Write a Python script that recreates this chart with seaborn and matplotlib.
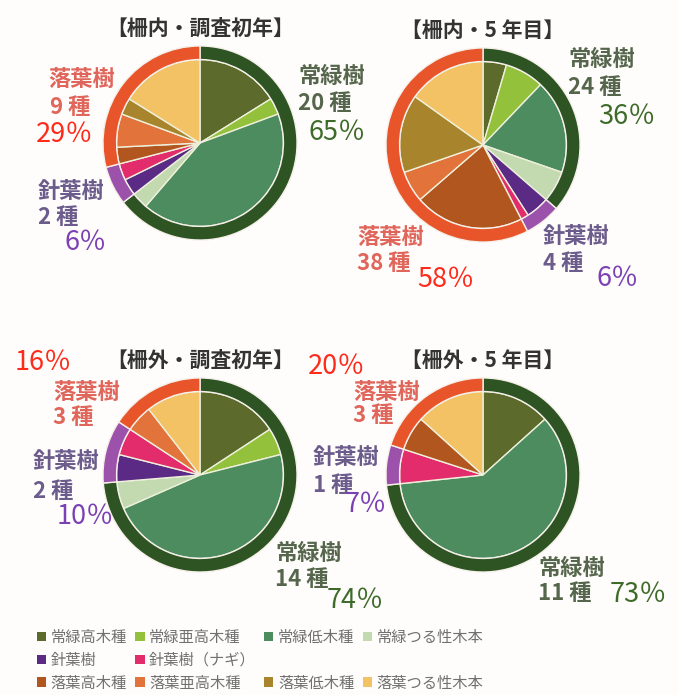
import matplotlib
matplotlib.use('Agg')
import matplotlib.pyplot as plt
from matplotlib.patches import Patch
import seaborn as sns

# データ
subtypes = ['常緑高木種', '常緑亜高木種', '常緑低木種', '常緑つる性木本',
            '針葉樹', '針葉樹（ナギ）',
            '落葉高木種', '落葉亜高木種', '落葉低木種', '落葉つる性木本']
sub_group = [0, 0, 0, 0, 1, 1, 2, 2, 2, 2]
groups = ['常緑樹', '針葉樹', '落葉樹']

titles = ['【柵内・調査初年】', '【柵内・5 年目】', '【柵外・調査初年】', '【柵外・5 年目】']
counts_naibu_0 = [5, 1, 13, 1, 1, 1, 1, 2, 1, 5]
counts_naibu_5 = [3, 5, 12, 4, 3, 1, 14, 4, 10, 10]
counts_gaibu_0 = [3, 1, 9, 1, 1, 1, 0, 1, 0, 2]
counts_gaibu_5 = [2, 0, 9, 0, 0, 1, 1, 0, 0, 2]
pct_naibu_0 = ['65％', '6％', '29％']
pct_naibu_5 = ['36％', '6％', '58％']
pct_gaibu_0 = ['74％', '10％', '16％']
pct_gaibu_5 = ['73％', '7％', '20％']

sub_colors = ['#5c6b2c', '#93c13c', '#4d8c5e', '#c3d9b0',
              '#5a2a84', '#e32c6c',
              '#b2561f', '#e2733a', '#a8842c', '#f2c265']
ring_colors = ['#2e5423', '#9c52ab', '#e8552b']
label_colors = ['#56664c', '#6c5c8c', '#e0655a']
pct_colors = ['#3e6a2a', '#7b40b4', '#ff2a1a']

sns.set_theme(style='white')
plt.rcParams['font.family'] = ['Noto Sans CJK JP', 'DejaVu Sans']

W, H = 679, 695
fig = plt.figure(figsize=(W / 100, H / 100), dpi=100, facecolor='#fefdfb')

def px(x, y):
    return x / W, 1 - y / H

def put(x, y, s, **kw):
    fx, fy = px(x, y)
    fig.text(fx, fy, s, ha='left', va='center', **kw)

# パイの中心 (px)
centers = [(200, 143), (483, 145), (200, 475), (483, 475)]
R = 98
all_counts = [counts_naibu_0, counts_naibu_5, counts_gaibu_0, counts_gaibu_5]
all_pct = [pct_naibu_0, pct_naibu_5, pct_gaibu_0, pct_gaibu_5]

for (cx, cy), counts, title in zip(centers, all_counts, titles):
    ax = fig.add_axes([(cx - R) / W, 1 - (cy + R) / H, 2 * R / W, 2 * R / H])
    vals = [v for v in counts if v > 0]
    cols = [c for v, c in zip(counts, sub_colors) if v > 0]
    gsum = [sum(v for v, g in zip(counts, sub_group) if g == k) for k in range(3)]
    ax.pie(vals, radius=0.86, colors=cols, startangle=90, counterclock=False,
           wedgeprops=dict(edgecolor='#eef0dc', linewidth=1.0))
    ax.pie(gsum, radius=1.0, colors=ring_colors, startangle=90, counterclock=False,
           wedgeprops=dict(width=0.14, edgecolor='#f6f0ea', linewidth=1.0))
    ax.set_xlim(-1.01, 1.01)
    ax.set_ylim(-1.01, 1.01)
    tx, ty = px(cx, cy - R - 17)
    fig.text(tx, ty, title, ha='center', va='center', fontsize=15,
             fontweight='bold', color='#333333')

# ラベル位置 (グループ名, 種数, ％)
label_pos = [
    [(298, 76, 298, 104, 308, 132), (38, 191, 38, 218, 65, 243), (48, 79, 50, 107, 36, 135)],
    [(568, 59, 568, 88, 598, 117), (543, 237, 543, 263, 597, 279), (357, 237, 357, 263, 417, 280)],
    [(275, 553, 275, 580, 327, 600), (33, 462, 33, 491, 57, 517), (53, 392, 53, 418, 15, 363)],
    [(538, 568, 538, 594, 610, 595), (313, 457, 313, 485, 345, 505), (353, 392, 353, 416, 308, 367)],
]

for counts, pcts, pos in zip(all_counts, all_pct, label_pos):
    gsum = [sum(v for v, g in zip(counts, sub_group) if g == k) for k in range(3)]
    for k in range(3):
        x1, y1, x2, y2, x3, y3 = pos[k]
        put(x1, y1, groups[k], fontsize=16, fontweight='bold', color=label_colors[k])
        put(x2, y2, f'{gsum[k]} 種', fontsize=16, fontweight='bold', color=label_colors[k])
        put(x3, y3, pcts[k], fontsize=19.5, color=pct_colors[k])

# 凡例 (列ごとの順)
order = [0, 4, 6, 1, 5, 7, 2, None, 8, 3, None, 9]
handles, labels = [], []
for i in order:
    if i is None:
        handles.append(Patch(facecolor='none', edgecolor='none'))
        labels.append('')
    else:
        handles.append(Patch(facecolor=sub_colors[i], edgecolor='none'))
        labels.append(subtypes[i])
lx, ly = px(37, 629)
fig.legend(handles, labels, ncol=4, loc='upper left', bbox_to_anchor=(lx, ly),
           frameon=False, fontsize=11, labelcolor='#707070', handlelength=0.6,
           handleheight=0.6, handletextpad=0.3, columnspacing=0.55,
           labelspacing=0.38, borderpad=0, borderaxespad=0)

fig.savefig('out.png', dpi=100, facecolor=fig.get_facecolor())
